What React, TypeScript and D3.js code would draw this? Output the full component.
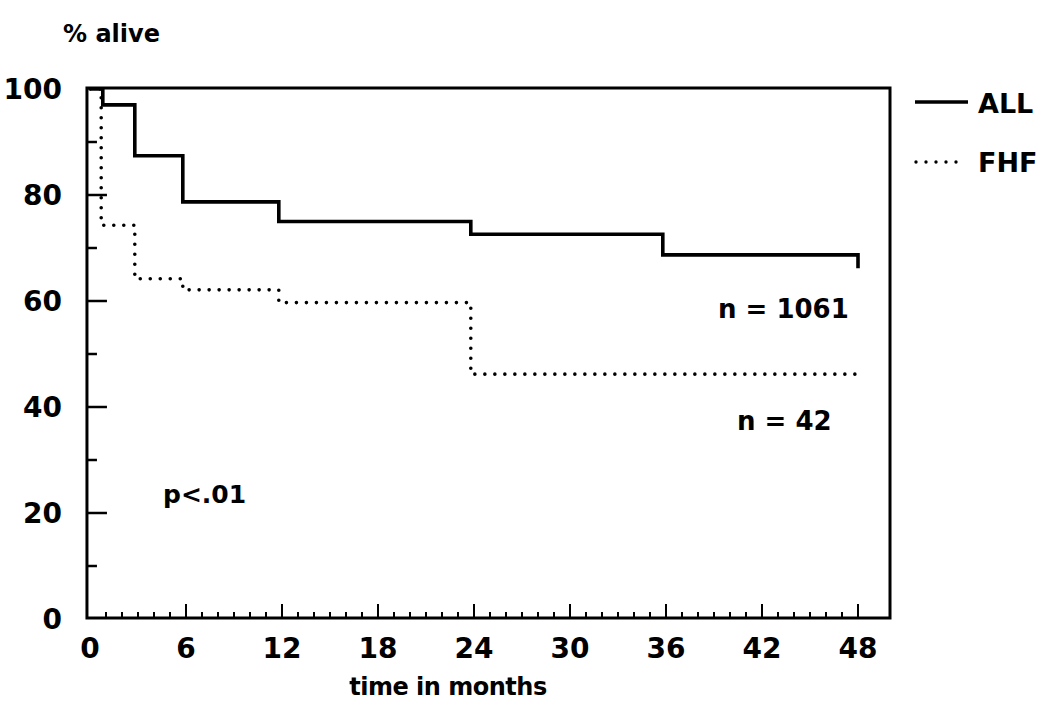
import * as d3 from "d3";

// Kaplan-Meier survival
const allMonths = [0, 0.8, 2.8, 5.8, 11.8, 23.8, 35.8, 48];
const allAlive = [100, 97, 87.4, 78.7, 75, 72.6, 68.7, 66.2];
const fhfMonths = [0, 0.7, 2.8, 5.8, 11.8, 23.8, 48];
const fhfAlive = [100, 74.3, 64.2, 62.1, 59.7, 46.2, 46.2];

const xTickLabels = [0, 6, 12, 18, 24, 30, 36, 42, 48];
const yTickLabels = [0, 20, 40, 60, 80, 100];

const W = 1050;
const H = 711;
const FONT = "DejaVu Sans, sans-serif";

export default function App() {
  const x = d3.scaleLinear().domain([0, 50]).range([90, 890]);
  const y = d3.scaleLinear().domain([0, 100]).range([619, 89]);
  const left = x(-0.19);

  const line = d3
    .line<[number, number]>()
    .x((d) => x(d[0]))
    .y((d) => y(d[1]))
    .curve(d3.curveStepAfter);

  const allPts = allMonths.map((m, i) => [m, allAlive[i]] as [number, number]);
  const fhfPts = fhfMonths.map((m, i) => [m, fhfAlive[i]] as [number, number]);

  const monthTicks = d3.range(1, 49);
  const yMinor = d3.range(10, 100, 10);

  const txt = { fontFamily: FONT, fontWeight: 700, fill: "#000" } as const;

  return (
    <svg
      width={W}
      height={H}
      style={{ position: "absolute", left: 0, top: 0, background: "#fff" }}
    >
      {/* curves */}
      <path
        d={fhfPts.length ? line(fhfPts)! : ""}
        fill="none"
        stroke="#000"
        strokeWidth={3.6}
        strokeLinecap="round"
        strokeDasharray="0 10"
      />
      <path d={line(allPts)!} fill="none" stroke="#000" strokeWidth={3.6} />

      {/* frame */}
      <rect
        x={left}
        y={y(100) - 1}
        width={x(50) - left}
        height={y(0) - y(100)}
        fill="none"
        stroke="#000"
        strokeWidth={3}
      />

      {/* x ticks (monthly, long every 6) */}
      {monthTicks.map((m) => (
        <line
          key={m}
          x1={x(m)}
          x2={x(m)}
          y1={y(0) - 1}
          y2={y(0) - (m % 6 === 0 ? 15 : 7)}
          stroke="#000"
          strokeWidth={2}
        />
      ))}
      {/* y ticks (every 10, long every 20) */}
      {yMinor.map((v) => (
        <line
          key={v}
          x1={left}
          x2={left + (v % 20 === 0 ? 20 : 10)}
          y1={y(v)}
          y2={y(v)}
          stroke="#000"
          strokeWidth={2.5}
        />
      ))}

      {xTickLabels.map((v) => (
        <text key={v} x={x(v)} y={658} textAnchor="middle" fontSize={28} {...txt}>
          {v}
        </text>
      ))}
      {yTickLabels.map((v) => (
        <text key={v} x={62} y={y(v) + 10} textAnchor="end" fontSize={28} {...txt}>
          {v}
        </text>
      ))}

      <text x={63} y={42} fontSize={24} {...txt}>
        % alive
      </text>
      <text x={448} y={695} textAnchor="middle" fontSize={24} letterSpacing={-0.5} {...txt}>
        time in months
      </text>

      <text x={718} y={318} fontSize={26} {...txt}>
        n = 1061
      </text>
      <text x={737} y={430} fontSize={26} {...txt}>
        n = 42
      </text>
      <text x={163} y={503} fontSize={25} {...txt}>
        p&lt;.01
      </text>

      {/* legend */}
      <line x1={915} x2={968} y1={102} y2={102} stroke="#000" strokeWidth={3.4} />
      <text x={978} y={113} fontSize={27} {...txt}>
        ALL
      </text>
      <line
        x1={916}
        x2={958}
        y1={162}
        y2={162}
        stroke="#000"
        strokeWidth={3.4}
        strokeLinecap="round"
        strokeDasharray="0 10"
      />
      <text x={978} y={172} fontSize={27} {...txt}>
        FHF
      </text>
    </svg>
  );
}
